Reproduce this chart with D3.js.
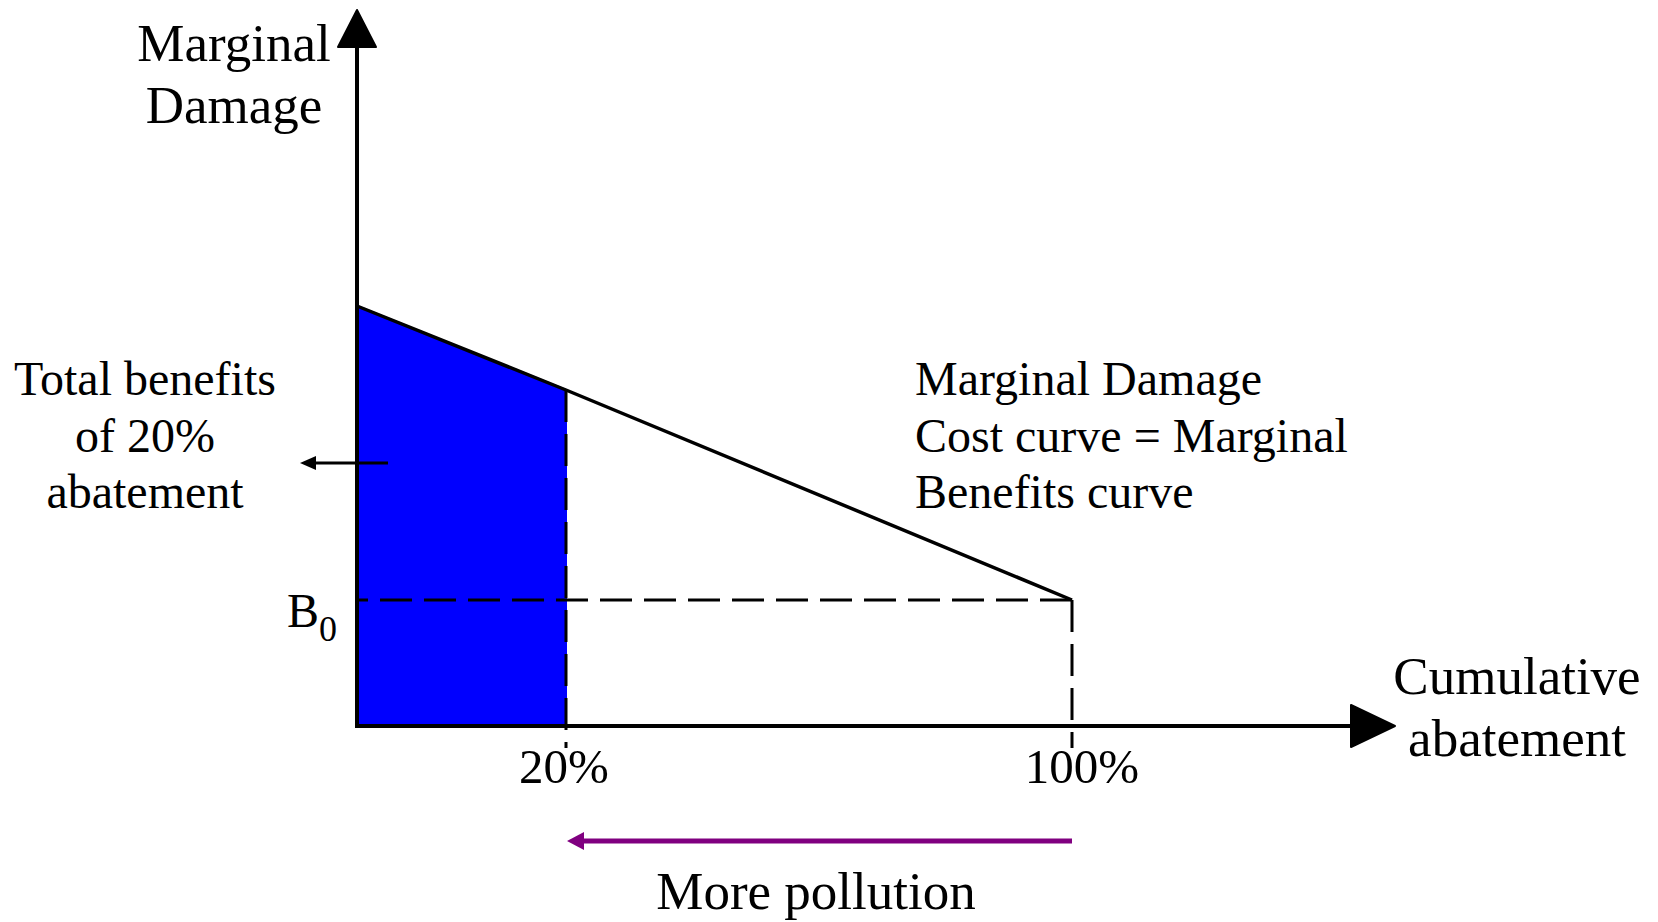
<!DOCTYPE html>
<html><head><meta charset="utf-8">
<script src="https://cdn.jsdelivr.net/npm/d3@7"></script>
<style>html,body{margin:0;padding:0;background:#fff;}svg{display:block;}text{font-family:"Liberation Serif","Times New Roman",serif;fill:#000;}</style>
</head><body>
<script>
// ---- data ----
const abatement = [0, 20, 100];          // cumulative abatement (%)
const marginalDamage = [100, 80, 30];    // marginal damage (arbitrary units)
const shadedUpTo = 20;                   // total benefits of 20% abatement
const B0 = 30;
const tickValues = [20, 100];
const tickLabels = ["20%", "100%"];
const yLabelLines = ["Marginal", "Damage"];
const xLabelLines = ["Cumulative", "abatement"];
const curveLabelLines = ["Marginal Damage", "Cost curve = Marginal", "Benefits curve"];
const benefitLabelLines = ["Total benefits", "of 20%", "abatement"];
const pollutionLabel = "More pollution";

// ---- layout ----
const W = 1658, H = 922;
const svg = d3.select("body").append("svg").attr("width", W).attr("height", H);

const x = d3.scaleLinear().domain([0, 20, 100]).range([357, 566, 1072]);
const y = d3.scaleLinear().domain([0, 100]).range([726, 306]);
const xAxisEnd = 1395, yAxisTop = 10;

const pts = abatement.map((a, i) => [a, marginalDamage[i]]);
const mdAt = a => { const i = abatement.indexOf(a); return marginalDamage[i]; };

// shaded area
const shaded = pts.filter(p => p[0] <= shadedUpTo);
svg.append("path")
  .datum(shaded)
  .attr("d", d3.area().x(d => x(d[0])).y0(y(0)).y1(d => y(d[1])))
  .attr("fill", "#0000ff").attr("stroke", "#0000ff").attr("stroke-width", 2);

// dashed guides
const dash = "32,12";
svg.append("line")
  .attr("x1", x(100)).attr("x2", x(0)).attr("y1", y(B0)).attr("y2", y(B0))
  .attr("stroke", "#000").attr("stroke-width", 3).attr("stroke-dasharray", dash);
[shadedUpTo, 100].forEach(v => {
  svg.append("line")
    .attr("x1", x(v)).attr("x2", x(v)).attr("y1", y(mdAt(v))).attr("y2", y(0) + 22)
    .attr("stroke", "#000").attr("stroke-width", 3).attr("stroke-dasharray", dash);
});

// marginal damage curve
svg.append("path")
  .datum(pts)
  .attr("d", d3.line().x(d => x(d[0])).y(d => y(d[1])))
  .attr("fill", "none").attr("stroke", "#000").attr("stroke-width", 3.5);

// axes
svg.append("line").attr("x1", x(0)).attr("x2", x(0)).attr("y1", y(0) + 2).attr("y2", 46)
  .attr("stroke", "#000").attr("stroke-width", 4);
svg.append("line").attr("x1", x(0) - 2).attr("x2", 1352).attr("y1", y(0)).attr("y2", y(0))
  .attr("stroke", "#000").attr("stroke-width", 4);
svg.append("path")
  .attr("d", `M${x(0)},${yAxisTop} L${x(0) + 19},${47} L${x(0) - 19},${47} Z`)
  .attr("fill", "#000").attr("stroke", "#000").attr("stroke-width", 2).attr("stroke-linejoin", "round");
svg.append("path")
  .attr("d", `M${xAxisEnd},${y(0)} L${1351},${y(0) - 21} L${1351},${y(0) + 21} Z`)
  .attr("fill", "#000").attr("stroke", "#000").attr("stroke-width", 2).attr("stroke-linejoin", "round");

// tick labels
tickValues.forEach((v, i) => {
  svg.append("text").attr("x", x(v) + (v === 100 ? 10 : -2)).attr("y", 783)
    .attr("text-anchor", "middle").attr("font-size", 49).text(tickLabels[i]);
});

// B0 label
const b = svg.append("text").attr("x", 287).attr("y", 627).attr("font-size", 48);
b.append("tspan").text("B");
b.append("tspan").attr("font-size", 36).attr("dy", 14).text("0");

// axis titles
yLabelLines.forEach((t, i) => svg.append("text").attr("x", 234).attr("y", 61 + i * 62)
  .attr("text-anchor", "middle").attr("font-size", 53).text(t));
xLabelLines.forEach((t, i) => svg.append("text").attr("x", 1517).attr("y", 694 + i * 62)
  .attr("text-anchor", "middle").attr("font-size", 53).text(t));

// annotations
curveLabelLines.forEach((t, i) => svg.append("text").attr("x", 915).attr("y", 395 + i * 56.5)
  .attr("font-size", 48).text(t));
benefitLabelLines.forEach((t, i) => svg.append("text").attr("x", 145).attr("y", 395 + i * 56.5)
  .attr("text-anchor", "middle").attr("font-size", 48).text(t));

// small black arrow
svg.append("line").attr("x1", 388).attr("x2", 310).attr("y1", 463).attr("y2", 463)
  .attr("stroke", "#000").attr("stroke-width", 3);
svg.append("path").attr("d", "M300,463 L316,456 L316,470 Z").attr("fill", "#000");

// purple arrow
svg.append("line").attr("x1", x(100)).attr("x2", x(shadedUpTo) + 12).attr("y1", 841).attr("y2", 841)
  .attr("stroke", "#800080").attr("stroke-width", 5);
svg.append("path").attr("d", `M${x(shadedUpTo) + 1},841 L${x(shadedUpTo) + 18},832 L${x(shadedUpTo) + 18},850 Z`)
  .attr("fill", "#800080");
svg.append("text").attr("x", 816).attr("y", 909).attr("text-anchor", "middle")
  .attr("font-size", 53).text(pollutionLabel);
</script>
</body></html>
